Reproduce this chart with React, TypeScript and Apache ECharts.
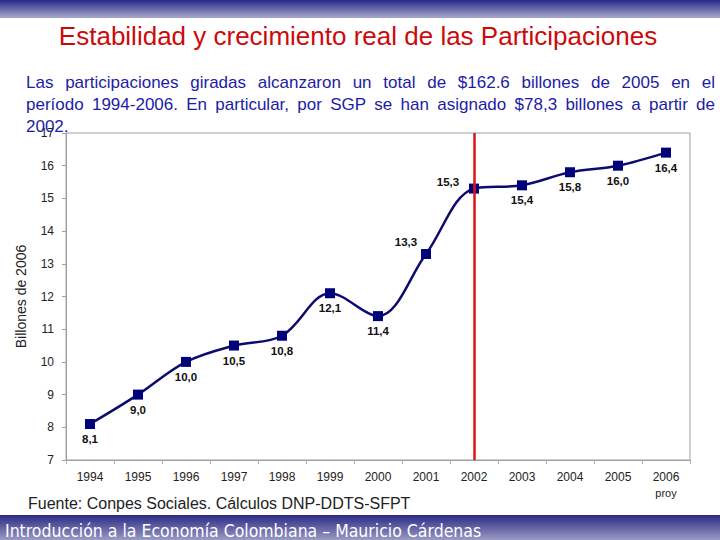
import React, { useEffect, useRef } from "react";
import * as echarts from "echarts";

const years = ["1994", "1995", "1996", "1997", "1998", "1999", "2000", "2001", "2002", "2003", "2004", "2005", "2006"];
const values = [8.1, 9.0, 10.0, 10.5, 10.8, 12.1, 11.4, 13.3, 15.3, 15.4, 15.8, 16.0, 16.4];
const labelAbove = ["2001", "2002"];
const markYear = "2002";

const titleText = "Estabilidad y crecimiento real de las Participaciones";
const paragraphLines = [
  "Las participaciones giradas alcanzaron un total de $162.6 billones de 2005 en el",
  "período 1994-2006. En particular, por SGP se han asignado $78,3 billones a partir de",
  "2002.",
];
const sourceText = "Fuente: Conpes Sociales. Cálculos DNP-DDTS-SFPT";
const footerText = "Introducción a la Economía Colombiana – Mauricio Cárdenas";
const yAxisName = "Billones de 2006";

function justifiedLine(line: string, x0: number, x1: number, y: number, font: string, justify: boolean) {
  const canvas = document.createElement("canvas");
  const ctx = canvas.getContext("2d") as CanvasRenderingContext2D;
  ctx.font = font;
  const words = line.split(" ");
  const widths = words.map((w) => ctx.measureText(w).width);
  const total = widths.reduce((a, b) => a + b, 0);
  let gap = ctx.measureText(" ").width;
  if (justify && words.length > 1) gap = (x1 - x0 - total) / (words.length - 1);
  const out: any[] = [];
  let x = x0;
  words.forEach((w, i) => {
    out.push({
      type: "text",
      x,
      y,
      z: 100,
      style: { text: w, font, fill: "#1c1ca6", textVerticalAlign: "middle" },
    });
    x += widths[i] + gap;
  });
  return out;
}

export default function App() {
  const ref = useRef<HTMLDivElement>(null);
  useEffect(() => {
    if (!ref.current) return;
    const chart = echarts.init(ref.current, null, { renderer: "svg" });
    const paraFont = "17px 'Liberation Sans', Arial, sans-serif";
    const paraEls: any[] = [];
    paragraphLines.forEach((l, i) => {
      paraEls.push(...justifiedLine(l, 26, 715, 82 + i * 22, paraFont, i < paragraphLines.length - 1));
    });
    const data = values.map((v, i) => {
      const above = labelAbove.includes(years[i]);
      return {
        value: v,
        label: above
          ? { position: "top", offset: years[i] === "2001" ? [-20, 4] : [-26, 9] }
          : { position: "bottom", distance: 4 },
      };
    });
    chart.setOption({
      animation: false,
      backgroundColor: "#ffffff",
      grid: { left: 66, right: 30, top: 133, bottom: 80, show: true, borderColor: "#a0a0a0", borderWidth: 1 },
      xAxis: {
        type: "category",
        data: years,
        boundaryGap: true,
        axisLine: { lineStyle: { color: "#a0a0a0" } },
        axisTick: { show: true, length: 4, lineStyle: { color: "#b0b0b0" } },
        axisLabel: {
          interval: 0,
          color: "#222",
          fontSize: 12,
          fontFamily: "'Liberation Sans', Arial, sans-serif",
          margin: 9,
          lineHeight: 16,
          formatter: (v: string) => (v === "2006" ? "2006\n{p|proy}" : v),
          rich: { p: { fontSize: 11, color: "#222", fontFamily: "'Liberation Sans', Arial, sans-serif" } },
        },
      },
      yAxis: {
        type: "value",
        min: 7,
        max: 17,
        interval: 1,
        name: yAxisName,
        nameLocation: "middle",
        nameGap: 38,
        nameTextStyle: { fontSize: 14, color: "#222", fontFamily: "'Liberation Sans', Arial, sans-serif" },
        axisLine: { show: true, lineStyle: { color: "#a0a0a0" } },
        axisTick: { show: true, length: 4, lineStyle: { color: "#a0a0a0" } },
        splitLine: { show: false },
        axisLabel: { color: "#222", fontSize: 12, margin: 12, fontFamily: "'Liberation Sans', Arial, sans-serif" },
      },
      series: [
        {
          type: "line",
          data,
          smooth: 0.35,
          symbol: "rect",
          symbolSize: 10,
          lineStyle: { color: "#0c0c70", width: 2.5 },
          itemStyle: { color: "#00007a" },
          label: {
            show: true,
            fontSize: 11.5,
            fontWeight: "bold",
            color: "#111",
            fontFamily: "'Liberation Sans', Arial, sans-serif",
            formatter: (p: any) => p.value.toFixed(1).replace(".", ","),
          },
          markLine: {
            silent: true,
            symbol: "none",
            label: { show: false },
            lineStyle: { color: "#dd1515", width: 2.5, type: "solid" },
            data: [{ xAxis: markYear }],
          },
        },
      ],
      graphic: [
        {
          type: "rect",
          shape: { x: 0, y: 0, width: 720, height: 18 },
          z: 50,
          style: {
            fill: new echarts.graphic.LinearGradient(0, 0, 0, 1, [
              { offset: 0, color: "#28288a" },
              { offset: 1, color: "#a8a8cc" },
            ]),
          },
        },
        {
          type: "rect",
          shape: { x: 0, y: 515, width: 720, height: 25 },
          z: 50,
          style: {
            fill: new echarts.graphic.LinearGradient(0, 0, 0, 1, [
              { offset: 0, color: "#2a2a86" },
              { offset: 1, color: "#9a9ac4" },
            ]),
          },
        },
        {
          type: "text",
          x: 5,
          y: 531,
          z: 60,
          style: {
            text: footerText,
            font: "17.5px 'DejaVu Sans Condensed', 'DejaVu Sans', sans-serif",
            fill: "#ffffff",
            textVerticalAlign: "middle",
          },
        },
        {
          type: "text",
          x: 358,
          y: 36,
          z: 60,
          style: {
            text: titleText,
            font: "26px 'Liberation Sans', Arial, sans-serif",
            fill: "#cc0a0a",
            textAlign: "center",
            textVerticalAlign: "middle",
          },
        },
        {
          type: "text",
          x: 28,
          y: 503,
          z: 60,
          style: {
            text: sourceText,
            font: "16px 'Liberation Sans', Arial, sans-serif",
            fill: "#222",
            textVerticalAlign: "middle",
          },
        },
        ...paraEls,
      ],
    });
    return () => chart.dispose();
  }, []);
  return <div ref={ref} style={{ position: "fixed", left: 0, top: 0, width: 720, height: 540 }} />;
}
